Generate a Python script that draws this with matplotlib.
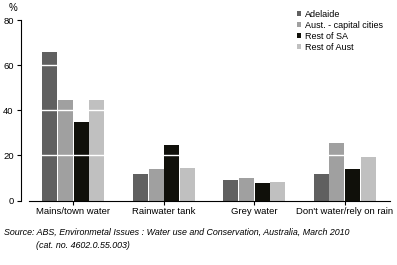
import numpy as np
import matplotlib
matplotlib.use("Agg")
import matplotlib.pyplot as plt

plt.rcParams['font.family'] = ['Liberation Sans', 'DejaVu Sans']

categories = ['Mains/town water', 'Rainwater tank', 'Grey water', "Don't water/rely on rain"]
series = ['Adelaide', 'Aust. - capital cities', 'Rest of SA', 'Rest of Aust']
adelaide = [66.0, 11.9, 9.1, 11.9]
aust_capitals = [44.7, 14.0, 10.1, 25.7]
rest_sa = [34.9, 24.7, 7.9, 14.1]
rest_aust = [44.7, 14.4, 8.4, 19.5]
yticks = [0, 20, 40, 60, 80]

values = [adelaide, aust_capitals, rest_sa, rest_aust]
colors = ['#606060', '#a0a0a0', '#10100a', '#c0c0c0']

fig = plt.figure(figsize=(3.97, 2.65), dpi=100)
ax = fig.add_axes([29 / 397, 1 - 200.5 / 265, 361 / 397, 180.5 / 265])

x = np.arange(len(categories))
w = 0.166
for i, (vals, c) in enumerate(zip(values, colors)):
    ax.bar(x + (i - 1.5) * (w + 0.006), vals, width=w, color=c, label=series[i], zorder=2)

for g in [20, 40, 60]:
    ax.axhline(g, color='white', lw=1, zorder=3)

ax.set_xlim(-0.49, 3.5)
ax.set_ylim(0, 80)
ax.set_yticks(yticks)
ax.set_xticks(x)
ax.set_xticklabels(categories)
ax.tick_params(labelsize=6.8, length=3, width=0.8, colors='black', pad=2)
for s in ['top', 'right']:
    ax.spines[s].set_visible(False)
ax.spines['left'].set_position(('outward', 6))
ax.spines['left'].set_bounds(0, 80)

fig.text(13 / 397, 1 - 8 / 265, '%', fontsize=7, ha='center', va='center')

fig.legend(loc='upper left', bbox_to_anchor=(297 / 397, 1 - 10 / 265), frameon=False, fontsize=6.5,
           handlelength=0.45, handleheight=0.45, handletextpad=0.4, labelspacing=0.22,
           borderpad=0, borderaxespad=0)

fig.text(4 / 397, 1 - 232 / 265, 'Source: ABS, Environmetal Issues : Water use and Conservation, Australia, March 2010',
         fontsize=6.4, style='italic', va='center')
fig.text(36 / 397, 1 - 245 / 265, '(cat. no. 4602.0.55.003)', fontsize=6.4, style='italic', va='center')

fig.savefig('out.png', dpi=100)
